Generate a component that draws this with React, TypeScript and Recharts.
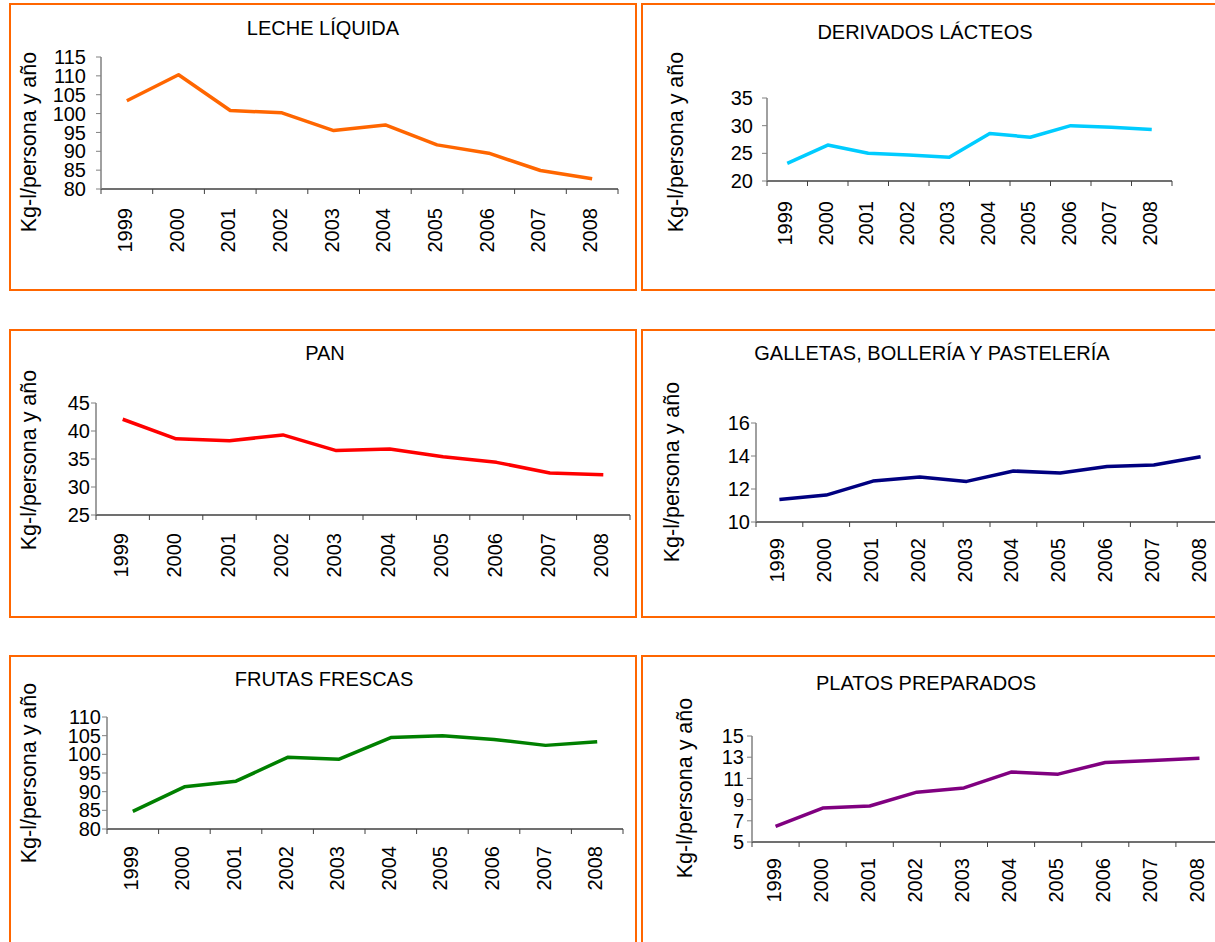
import React from 'react';
import { LineChart, Line, XAxis, YAxis } from 'recharts';

const years = ['1999', '2000', '2001', '2002', '2003', '2004', '2005', '2006', '2007', '2008'];

const lecheLiquida = [103.4, 110.3, 100.8, 100.2, 95.5, 97.0, 91.7, 89.5, 84.9, 82.7];
const derivadosLacteos = [23.2, 26.5, 25.0, 24.7, 24.3, 28.6, 27.9, 30.0, 29.7, 29.3];
const pan = [42.1, 38.6, 38.25, 39.3, 36.5, 36.8, 35.4, 34.4, 32.5, 32.2];
const galletas = [11.36, 11.63, 12.48, 12.73, 12.46, 13.09, 12.97, 13.36, 13.46, 13.95];
const frutasFrescas = [84.7, 91.3, 92.8, 99.2, 98.7, 104.5, 105.0, 104.0, 102.4, 103.4];
const platosPreparados = [6.48, 8.2, 8.4, 9.7, 10.1, 11.6, 11.4, 12.5, 12.7, 12.9];

const ticksLeche = [80, 85, 90, 95, 100, 105, 110, 115];
const ticksDerivados = [20, 25, 30, 35];
const ticksPan = [25, 30, 35, 40, 45];
const ticksGalletas = [10, 12, 14, 16];
const ticksFrutas = [80, 85, 90, 95, 100, 105, 110];
const ticksPlatos = [5, 7, 9, 11, 13, 15];

const yLabel = 'Kg-l/persona y año';

const FONT = '"Liberation Sans", Arial, Helvetica, sans-serif';
const ORANGE = '#FF6600';

type Panel = {
  title: string;
  values: number[];
  ticks: number[];
  color: string;
  box: { left: number; top: number; width: number; height: number };
  plot: { left: number; right: number; top: number; bottom: number };
  titleC: [number, number];
  labelC: [number, number];
  yGap: number;
  xGap: number;
};

const panels: Panel[] = [
  {
    title: 'LECHE LÍQUIDA', values: lecheLiquida, ticks: ticksLeche, color: '#FF6600',
    box: { left: 9, top: 3, width: 628, height: 288 },
    plot: { left: 101, right: 618, top: 57, bottom: 189 },
    titleC: [323, 28], labelC: [29, 142], yGap: 15, xGap: 19,
  },
  {
    title: 'DERIVADOS LÁCTEOS', values: derivadosLacteos, ticks: ticksDerivados, color: '#00CCFF',
    box: { left: 641, top: 3, width: 600, height: 288 },
    plot: { left: 767, right: 1172, top: 98, bottom: 181 },
    titleC: [925, 32], labelC: [676, 142], yGap: 14, xGap: 20,
  },
  {
    title: 'PAN', values: pan, ticks: ticksPan, color: '#FF0000',
    box: { left: 9, top: 329, width: 628, height: 289 },
    plot: { left: 96, right: 630, top: 403, bottom: 515 },
    titleC: [325, 353], labelC: [29, 460], yGap: 6, xGap: 18,
  },
  {
    title: 'GALLETAS, BOLLERÍA Y PASTELERÍA', values: galletas, ticks: ticksGalletas, color: '#000080',
    box: { left: 641, top: 329, width: 600, height: 289 },
    plot: { left: 756, right: 1224, top: 423, bottom: 522 },
    titleC: [932, 353], labelC: [672, 472], yGap: 6, xGap: 16,
  },
  {
    title: 'FRUTAS FRESCAS', values: frutasFrescas, ticks: ticksFrutas, color: '#008000',
    box: { left: 9, top: 655, width: 628, height: 320 },
    plot: { left: 107, right: 623, top: 717, bottom: 829 },
    titleC: [324, 679], labelC: [29, 773], yGap: 6, xGap: 17,
  },
  {
    title: 'PLATOS PREPARADOS', values: platosPreparados, ticks: ticksPlatos, color: '#800080',
    box: { left: 641, top: 655, width: 600, height: 320 },
    plot: { left: 752, right: 1223, top: 736, bottom: 842 },
    titleC: [926, 683], labelC: [685, 788], yGap: 8, xGap: 16,
  },
];

// tick positions on the category axis: boundaries (x.5) get tick marks, centers (integers) get year labels
const xAxisTicks: number[] = [];
years.forEach((_, i) => {
  xAxisTicks.push(i - 0.5);
  xAxisTicks.push(i);
});
xAxisTicks.push(years.length - 0.5);

const YW = 80;
const TOPPAD = 12;
const RIGHTPAD = 12;
const XH = 80;

function XTick(props: any) {
  const { x, y, payload, gap } = props;
  const v = Number(payload.value);
  if (!Number.isInteger(v)) {
    return <line x1={x} y1={y} x2={x} y2={y + 5} stroke="#404040" strokeWidth={1} />;
  }
  return (
    <g transform={`translate(${x},${y})`}>
      <text transform="rotate(-90)" x={-gap} y={5} textAnchor="end" fontSize={20} fill="#000" fontFamily={FONT}>
        {years[v]}
      </text>
    </g>
  );
}

function ChartPanel({ p }: { p: Panel }) {
  const data = p.values.map((v, i) => ({ i, v }));
  const plotW = p.plot.right - p.plot.left;
  const plotH = p.plot.bottom - p.plot.top;
  const width = YW + plotW + RIGHTPAD;
  const height = TOPPAD + plotH + XH;
  const min = p.ticks[0];
  const max = p.ticks[p.ticks.length - 1];
  return (
    <>
      <div
        style={{
          position: 'absolute', left: p.box.left, top: p.box.top, width: p.box.width, height: p.box.height,
          border: `2px solid ${ORANGE}`, boxSizing: 'border-box',
        }}
      />
      <div
        style={{
          position: 'absolute', left: p.titleC[0] - 250, top: p.titleC[1] - 12, width: 500, height: 24,
          lineHeight: '24px', fontSize: 20, textAlign: 'center', color: '#000', whiteSpace: 'nowrap',
        }}
      >
        {p.title}
      </div>
      <div
        style={{
          position: 'absolute', left: p.labelC[0] - 150, top: p.labelC[1] - 12, width: 300, height: 24,
          lineHeight: '24px', fontSize: 21.5, textAlign: 'center', color: '#000', whiteSpace: 'nowrap',
          transform: 'rotate(-90deg)', transformOrigin: '50% 50%',
        }}
      >
        {yLabel}
      </div>
      <div style={{ position: 'absolute', left: p.plot.left - YW, top: p.plot.top - TOPPAD, width, height }}>
        <LineChart width={width} height={height} data={data} margin={{ top: TOPPAD, right: RIGHTPAD, bottom: 0, left: 0 }}>
          <XAxis
            type="number" dataKey="i" domain={[-0.5, years.length - 0.5]} ticks={xAxisTicks}
            interval={0} tickLine={false} tickSize={0} tickMargin={0} height={XH}
            axisLine={{ stroke: '#404040', strokeWidth: 1.3 }}
            tick={(tp: any) => <XTick {...tp} gap={p.xGap} />}
          />
          <YAxis
            type="number" domain={[min, max]} ticks={p.ticks} interval={0} width={YW}
            tickSize={5} tickMargin={Math.max(0, p.yGap - 5)}
            axisLine={{ stroke: '#808080', strokeWidth: 1.5 }} tickLine={{ stroke: '#808080', strokeWidth: 1 }}
            tick={{ fontSize: 20, fill: '#000', fontFamily: FONT }}
          />
          <Line
            type="linear" dataKey="v" stroke={p.color} strokeWidth={3.5}
            dot={false} activeDot={false} isAnimationActive={false} strokeLinejoin="round" strokeLinecap="butt"
          />
        </LineChart>
      </div>
    </>
  );
}

export default function App() {
  return (
    <div
      style={{
        position: 'absolute', left: 0, top: 0, width: 1215, height: 942, overflow: 'hidden',
        background: '#fff', fontFamily: FONT,
      }}
    >
      {panels.map((p) => (
        <ChartPanel key={p.title} p={p} />
      ))}
    </div>
  );
}
